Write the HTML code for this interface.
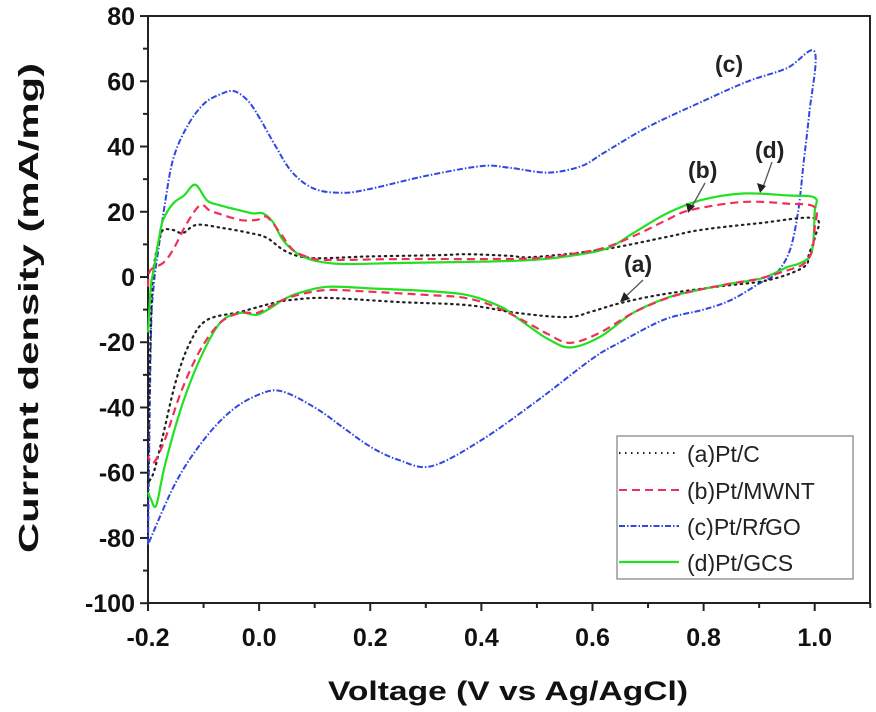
<!DOCTYPE html>
<html><head><meta charset="utf-8"><style>
html,body{margin:0;padding:0;background:#fff;}
svg{display:block;font-family:"Liberation Sans",Arial,sans-serif;}
</style></head><body>
<svg id="chart" width="876" height="712" viewBox="0 0 876 712">
<rect x="148" y="16" width="722" height="587" fill="none" stroke="#222" stroke-width="2"/>
<g id="axes"></g>
<g id="series"></g>
<text x="38" y="308" transform="rotate(-90 38 308)" text-anchor="middle" font-size="28" font-weight="bold" fill="#111" textLength="490" lengthAdjust="spacingAndGlyphs">Current density (mA/mg)</text>
<text x="508" y="700" text-anchor="middle" font-size="27" font-weight="bold" fill="#111" textLength="360" lengthAdjust="spacingAndGlyphs">Voltage (V vs Ag/AgCl)</text>
<g font-size="23" font-weight="bold" fill="#222">
<text x="715" y="72">(c)</text>
<text x="688" y="178">(b)</text>
<text x="755" y="158">(d)</text>
<text x="624" y="272">(a)</text>
<line x1="705" y1="183" x2="690" y2="210" stroke="#555" stroke-width="1.3"/>
<polygon points="688,213 686,203 695,206" fill="#222"/>
<line x1="772" y1="162" x2="762" y2="190" stroke="#555" stroke-width="1.3"/>
<polygon points="760,193 757,183 766,186" fill="#222"/>
<line x1="643" y1="280" x2="623" y2="299" stroke="#555" stroke-width="1.3"/>
<polygon points="620,302 624,292 630,299" fill="#222"/>
</g>
<g>
<rect x="617" y="436" width="236" height="143" fill="#fff" stroke="#888" stroke-width="1.3"/>
<g font-size="23" fill="#222">
<line x1="619" y1="453" x2="679" y2="453" stroke="#222" stroke-width="2" stroke-dasharray="1.5,4.5"/>
<text x="687" y="462">(a)Pt/C</text>
<line x1="619" y1="490" x2="679" y2="490" stroke="#f0305a" stroke-width="2" stroke-dasharray="8,5"/>
<text x="687" y="499">(b)Pt/MWNT</text>
<line x1="619" y1="526" x2="679" y2="526" stroke="#3048e0" stroke-width="2" stroke-dasharray="6,2,1.5,2"/>
<text x="687" y="535">(c)Pt/R<tspan font-style="italic">f</tspan>GO</text>
<line x1="619" y1="562" x2="679" y2="562" stroke="#22e022" stroke-width="2.2"/>
<text x="687" y="571">(d)Pt/GCS</text>
</g>
</g>
</svg>
<script>
const xTicks = [-0.2, 0.0, 0.2, 0.4, 0.6, 0.8, 1.0];
const xTickLabels = ["-0.2", "0.0", "0.2", "0.4", "0.6", "0.8", "1.0"];
const yTicks = [80, 60, 40, 20, 0, -20, -40, -60, -80, -100];
const yTickLabels = ["80", "60", "40", "20", "0", "-20", "-40", "-60", "-80", "-100"];
const seriesNames = ["(a)Pt/C", "(b)Pt/MWNT", "(c)Pt/RfGO", "(d)Pt/GCS"];
const voltA = [-0.2,-0.197,-0.193,-0.188,-0.18,-0.173,-0.155,-0.137,-0.112,-0.065,-0.017,0.014,0.05,0.097,0.2,0.326,0.374,0.45,0.493,0.614,0.734,0.794,0.9,1.0,
 1.0,0.99,0.98,0.915,0.823,0.72,0.65,0.6,0.554,0.464,0.374,0.254,0.122,0.06,0.025,-0.034,-0.094,-0.124,-0.15,-0.175,-0.19,-0.2];
const currA = [-63,-30,-5,5,11,14.4,14.4,13.5,16,15,13.5,12,7.7,5.8,6.3,6.7,7,6.5,6.1,8.3,12.3,14.4,16.5,18,
 12,7.3,3,-1,-3,-5.5,-8,-10.5,-12.3,-11,-8.6,-7.7,-6.4,-7,-8,-10.7,-13.2,-20,-32,-50,-60,-63];
const voltB = [-0.2,-0.196,-0.173,-0.155,-0.13,-0.106,-0.09,-0.076,-0.034,-0.004,0.014,0.038,0.061,0.09,0.122,0.25,0.4,0.5,0.58,0.626,0.68,0.734,0.776,0.87,0.95,1.0,
 1.0,0.995,0.98,0.95,0.9,0.85,0.79,0.734,0.673,0.614,0.56,0.52,0.493,0.434,0.374,0.3,0.2,0.122,0.07,0.043,0.025,-0.004,-0.034,-0.07,-0.106,-0.14,-0.17,-0.19,-0.2];
const currB = [-3,2,4.3,8.3,16.5,22,20.5,19.6,17.5,17.5,18.4,13.5,8.3,6,5.2,5.5,5.5,5.8,7.5,9.2,13,17.5,20.5,23,22.5,21.4,
 15,8,4,2,-0.5,-2,-4,-6.5,-11,-17,-20.2,-17.5,-15,-9.8,-6.5,-5.5,-4.5,-4,-5.5,-7,-8.5,-11,-11,-14,-22.4,-35,-50,-57,-55];
const voltC = [-0.2,-0.195,-0.19,-0.18,-0.17,-0.155,-0.13,-0.1,-0.07,-0.045,-0.02,0.0,0.03,0.06,0.1,0.15,0.2,0.3,0.4,0.45,0.52,0.58,0.62,0.7,0.8,0.88,0.95,1.0,
 0.99,0.98,0.97,0.955,0.93,0.9,0.85,0.8,0.73,0.65,0.6,0.5,0.4,0.31,0.25,0.2,0.15,0.1,0.04,0.0,-0.05,-0.1,-0.15,-0.2];
const currC = [-82,-20,-3,10,22,36,46,53,56,57,54,49,40,32,27,25.8,27,31,34,33.5,32,34,38,46,54,60,64,69,
 50,35,20,8,1,-2,-7,-10,-13,-20,-25,-38,-50,-58,-56,-52,-46,-40,-35,-36,-41,-50,-63,-82];
const voltD = [-0.2,-0.195,-0.19,-0.18,-0.173,-0.155,-0.135,-0.115,-0.094,-0.075,-0.058,-0.034,-0.011,0.007,0.025,0.043,0.068,0.1,0.15,0.25,0.4,0.5,0.58,0.63,0.673,0.734,0.794,0.87,0.95,1.0,
 1.0,0.997,0.99,0.97,0.95,0.907,0.85,0.79,0.734,0.673,0.614,0.56,0.52,0.493,0.46,0.434,0.374,0.3,0.2,0.122,0.07,0.043,0.025,-0.004,-0.034,-0.07,-0.106,-0.14,-0.17,-0.185,-0.195,-0.2];
const currD = [-17,-3,2,12,17.4,22.5,25,28.3,23.5,22.2,21.4,20.4,19.5,19.5,16.8,11.3,7.3,5,4,4.3,4.7,5.3,7,9,13.4,19.5,23.5,25.6,25,24.3,
 20,10,6,4,3,-0.3,-2,-4,-6.4,-11,-18.3,-21.6,-19,-16,-12,-9,-5.5,-4.3,-3.5,-3,-5,-7,-9,-11.6,-11,-14,-25,-40,-58,-70,-68,-66];

const NS = "http://www.w3.org/2000/svg";
const X0 = 148, XS = 555.6, Y0 = 277, YS = 3.262;
function xScale(v){ return X0 + (v + 0.2) * XS; }
function yScale(i){ return Y0 - i * YS; }
const axes = document.getElementById("axes");
const series = document.getElementById("series");
function mk(tag, attrs, parent){ const e = document.createElementNS(NS, tag); for (const k in attrs) e.setAttribute(k, attrs[k]); parent.appendChild(e); return e; }

xTicks.forEach((t, i) => {
  const x = xScale(t);
  const tk = mk("line", {x1:x, y1:603, x2:x, y2:611, stroke:"#222", "stroke-width":2}, axes);
  
  
  const m = xScale(t + 0.1);
  const mt = mk("line", {x1:m, y1:603, x2:m, y2:608, stroke:"#222", "stroke-width":2}, axes);
  
  
  const lb = mk("text", {x:x, y:646, "text-anchor":"middle", "font-size":25, "font-weight":"bold", fill:"#111"}, axes);
  lb.textContent = xTickLabels[i];
  
  
});
yTicks.forEach((t, i) => {
  const y = yScale(t);
  const tk = mk("line", {x1:140, y1:y, x2:148, y2:y, stroke:"#222", "stroke-width":2}, axes);
  
  
  if (t > -100) {
    const m = yScale(t - 10);
    const mt = mk("line", {x1:143, y1:m, x2:148, y2:m, stroke:"#222", "stroke-width":2}, axes);
    
    
  }
  const lb = mk("text", {x:135, y:y + 9, "text-anchor":"end", "font-size":25, "font-weight":"bold", fill:"#111"}, axes);
  lb.textContent = yTickLabels[i];
  
  
});

function smoothPath(vs, cs){
  const p = vs.map((v, i) => [xScale(v), yScale(cs[i])]);
  let d = "M" + p[0][0].toFixed(1) + "," + p[0][1].toFixed(1);
  for (let i = 0; i < p.length - 1; i++) {
    const a = p[Math.max(0, i - 1)], b = p[i], c = p[i + 1], e = p[Math.min(p.length - 1, i + 2)];
    const c1 = [b[0] + (c[0] - a[0]) / 6, b[1] + (c[1] - a[1]) / 6];
    const c2 = [c[0] - (e[0] - b[0]) / 6, c[1] - (e[1] - b[1]) / 6];
    d += " C" + c1[0].toFixed(1) + "," + c1[1].toFixed(1) + " " + c2[0].toFixed(1) + "," + c2[1].toFixed(1) + " " + c[0].toFixed(1) + "," + c[1].toFixed(1);
  }
  return d;
}
const pc = mk("path", {d:smoothPath(voltC, currC), fill:"none", stroke:"#3048e0", "stroke-width":2, "stroke-dasharray":"6,2,1.5,2"}, series);


const pa = mk("path", {d:smoothPath(voltA, currA), fill:"none", stroke:"#222", "stroke-width":2.2, "stroke-dasharray":"1.5,4.5", "stroke-linecap":"round"}, series);


const pd = mk("path", {d:smoothPath(voltD, currD), fill:"none", stroke:"#22e022", "stroke-width":2.2}, series);


const pb = mk("path", {d:smoothPath(voltB, currB), fill:"none", stroke:"#f0305a", "stroke-width":2.2, "stroke-dasharray":"8,5"}, series);


</script>
</body></html>
